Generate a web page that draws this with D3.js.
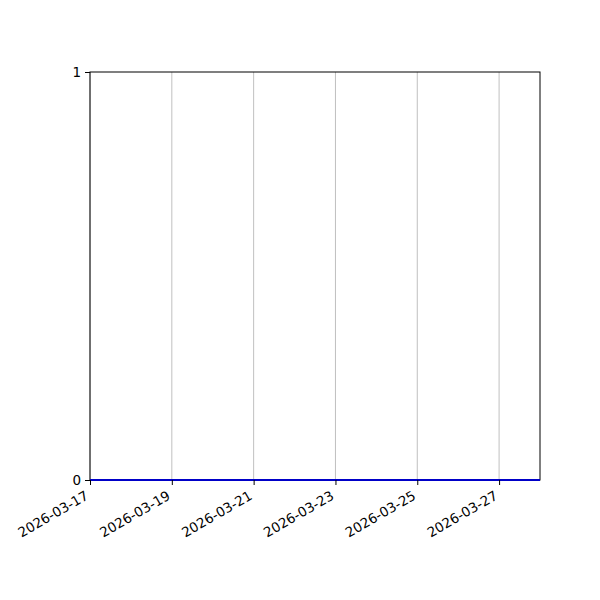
<!DOCTYPE html>
<html><head><meta charset="utf-8">
<script src="https://cdn.jsdelivr.net/npm/d3@7"></script>
<style>body{margin:0;background:#fff}svg{display:block}text{font-family:"DejaVu Sans",sans-serif}</style>
</head><body>
<script>
const dates = ["2026-03-17","2026-03-18","2026-03-19","2026-03-20","2026-03-21","2026-03-22","2026-03-23","2026-03-24","2026-03-25","2026-03-26","2026-03-27","2026-03-28"];
const values = [0,0,0,0,0,0,0,0,0,0,0,0];
const xTicks = ["2026-03-17","2026-03-19","2026-03-21","2026-03-23","2026-03-25","2026-03-27"];
const yTicks = [0,1];

const parse = d3.utcParse("%Y-%m-%d");
const W=600,H=600, m={l:90,r:60,t:72,b:120};
const svg = d3.select("body").append("svg").attr("width",W).attr("height",H);
const x = d3.scaleUtc().domain([parse(dates[0]), parse(dates[dates.length-1])]).range([m.l, W-m.r]);
const y = d3.scaleLinear().domain([0,1]).range([H-m.b, m.t]);

// grid
svg.append("g").selectAll("line").data(xTicks).join("line")
  .attr("x1",d=>x(parse(d))).attr("x2",d=>x(parse(d)))
  .attr("y1",m.t).attr("y2",H-m.b).attr("stroke","#b0b0b0").attr("stroke-width",0.8);

// frame
svg.append("rect").attr("x",m.l).attr("y",m.t).attr("width",W-m.l-m.r).attr("height",H-m.t-m.b)
  .attr("fill","none").attr("stroke","#000").attr("stroke-width",1);

// line
svg.append("path").datum(dates.map((d,i)=>({d:parse(d),v:values[i]})))
  .attr("fill","none").attr("stroke","#0000c8").attr("stroke-width",2)
  .attr("d",d3.line().x(p=>x(p.d)).y(p=>y(p.v)));

const xa = svg.append("g").attr("transform",`translate(0,${H-m.b})`)
  .call(d3.axisBottom(x).tickValues(xTicks.map(parse)).tickFormat(d3.utcFormat("%Y-%m-%d")).tickSize(5).tickPadding(4));
xa.select(".domain").remove();
xa.selectAll("line").attr("stroke","#000").attr("stroke-width",1);
xa.selectAll("text").attr("font-size",13.5).attr("fill","#000")
  .attr("text-anchor","end").attr("dy",null).attr("y",0)
  .attr("transform","translate(-3,15) rotate(-30)").attr("dominant-baseline","middle");

const ya = svg.append("g").attr("transform",`translate(${m.l},0)`)
  .call(d3.axisLeft(y).tickValues(yTicks).tickFormat(d3.format("d")).tickSize(5).tickPadding(4));
ya.select(".domain").remove();
ya.selectAll("line").attr("stroke","#000");
ya.selectAll("text").attr("font-size",13.5).attr("fill","#000");
</script>
</body></html>
